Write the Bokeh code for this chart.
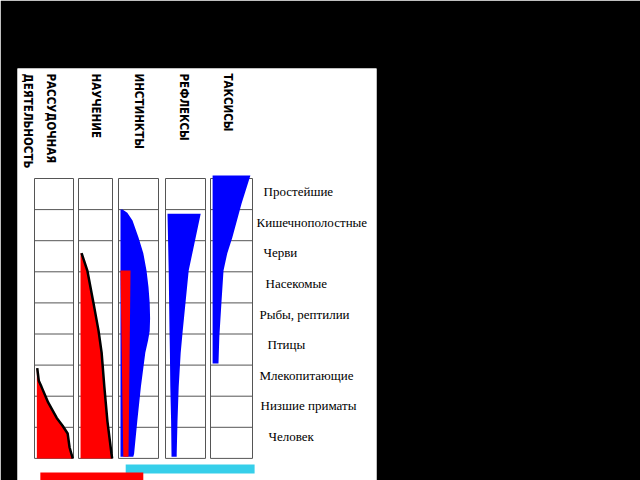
import math
from bokeh.plotting import figure
from bokeh.models import Range1d
from bokeh.core.properties import value
from bokeh.embed import file_html
from bokeh.resources import INLINE

# ---------------- data ----------------
levels = ["Простейшие", "Кишечнополостные", "Черви", "Насекомые",
          "Рыбы, рептилии", "Птицы", "Млекопитающие", "Низшие приматы", "Человек"]
forms_line1 = ["РАССУДОЧНАЯ", "НАУЧЕНИЕ", "ИНСТИНКТЫ", "РЕФЛЕКСЫ", "ТАКСИСЫ"]
forms_line2 = ["ДЕЯТЕЛЬНОСТЬ", "", "", "", ""]

# level position (rows from top) and share of the column filled
reason_level = [6.1, 6.5, 6.7, 7.2, 7.7, 7.95, 8.2, 8.65, 9.0]
reason_share = [0.07, 0.11, 0.18, 0.35, 0.57, 0.72, 0.85, 0.9, 0.98]

learning_level = [2.4, 2.96, 4.0, 4.9, 5.6, 6.7, 7.8, 8.85, 9.0]
learning_share = [0.09, 0.26, 0.44, 0.59, 0.68, 0.76, 0.85, 0.97, 0.99]

instinct_level = [1.0, 1.1, 1.35, 1.9, 2.4, 2.96, 3.5, 4.0, 4.5, 4.9, 5.2, 5.6, 6.7, 7.8, 8.85, 8.95]
instinct_share = [0.1, 0.22, 0.35, 0.5, 0.62, 0.7, 0.75, 0.78, 0.79, 0.78, 0.74, 0.67, 0.56, 0.47, 0.39, 0.37]

instinct_learned_level = [2.96, 8.95]
instinct_learned_left = [0.05, 0.12]
instinct_learned_share = [0.3, 0.25]

reflex_level = [1.13, 2.96, 4.9, 5.6, 6.7, 7.8, 8.85, 8.95]
reflex_left = [0.05, 0.08, 0.1, 0.11, 0.12, 0.14, 0.15, 0.15]
reflex_share = [0.88, 0.58, 0.43, 0.38, 0.33, 0.3, 0.28, 0.28]

taxis_level = [-0.1, 0.8, 1.9, 2.4, 2.96, 4.0, 5.1, 5.95]
taxis_share = [0.95, 0.74, 0.52, 0.40, 0.31, 0.26, 0.21, 0.19]

# bottom bars in column units (start, end)
bar_start = [0.15, 2.18]
bar_end = [2.62, 5.05]

# ---------------- layout ----------------
ROW0, ROWH = 178.0, 31.1          # pixel of first row line, row height
def r(px):
    return (px - ROW0) / ROWH

COL_L = [34, 78, 118, 165, 210]
COL_R = [73, 112, 158, 205, 252]
COL_W = [b - a for a, b in zip(COL_L, COL_R)]

def cx(i, s):
    return COL_L[i] + s * COL_W[i]

def colpos(c):
    i = min(int(c), 4)
    return cx(i, c - i)

RED = "#ff0000"
BLUE = "#0000ff"
CYAN = "#36cfea"
GRID = "#555555"

p = figure(width=640, height=480, output_backend="svg", toolbar_location=None,
           x_range=Range1d(17, 376), y_range=Range1d(r(480), r(68)),
           min_border_left=17, min_border_right=264, min_border_top=68,
           min_border_bottom=0, background_fill_color="white",
           border_fill_color="black", outline_line_color=None)
p.xaxis.visible = False
p.yaxis.visible = False
p.xgrid.visible = False
p.ygrid.visible = False

# grid boxes
for i in range(5):
    p.segment(x0=[COL_L[i], COL_R[i]], y0=[0, 0], x1=[COL_L[i], COL_R[i]], y1=[9, 9],
              line_color=GRID, line_width=1)
    p.segment(x0=[COL_L[i]] * 10, y0=list(range(10)), x1=[COL_R[i]] * 10,
              y1=list(range(10)), line_color=GRID, line_width=1)

# taxis
p.harea(x1=[cx(4, 0.05)] * len(taxis_level), x2=[cx(4, s) for s in taxis_share],
        y=taxis_level, fill_color=BLUE)
# reflexes
p.harea(x1=[cx(3, s) for s in reflex_left], x2=[cx(3, s) for s in reflex_share],
        y=reflex_level, fill_color=BLUE)
# instincts
p.harea(x1=[cx(2, 0.05)] * len(instinct_level), x2=[cx(2, s) for s in instinct_share],
        y=instinct_level, fill_color=BLUE)
p.harea(x1=[cx(2, s) for s in instinct_learned_left],
        x2=[cx(2, s) for s in instinct_learned_share],
        y=instinct_learned_level, fill_color=RED)
# learning
lx = [cx(1, s) for s in learning_share]
p.harea(x1=[cx(1, 0.06)] * len(learning_level), x2=lx, y=learning_level, fill_color=RED)
p.line(lx, learning_level, line_color="black", line_width=2.5)
# reasoning
rx = [cx(0, s) for s in reason_share]
p.harea(x1=[cx(0, 0.06)] * len(reason_level), x2=rx, y=reason_level, fill_color=RED)
p.line(rx, reason_level, line_color="black", line_width=2.5)

# bottom bars
p.quad(left=[colpos(bar_start[1])], right=[colpos(bar_end[1])],
       top=[r(464)], bottom=[r(473)], fill_color=CYAN, line_color=None)
p.quad(left=[colpos(bar_start[0])], right=[colpos(bar_end[0])],
       top=[r(472)], bottom=[r(481)], fill_color=RED, line_color=None)

# row labels
LABEL_X = [263, 256, 263, 265, 259, 267, 259, 260, 268]
p.text(x=LABEL_X, y=[i + 0.42 - 0.015 * i for i in range(9)], text=levels,
       text_font=value("Liberation Serif"), text_font_size="13px",
       text_color="black", text_baseline="middle", text_align="left")

# column headers (vertical)
HEAD_X1 = [50, 95, 138, 183, 227]
HEAD_X2 = [27]
HEAD_FONT = value("DejaVu Sans Condensed")
p.text(x=HEAD_X1, y=[r(73)] * 5, text=forms_line1, angle=-math.pi / 2,
       text_font=HEAD_FONT, text_font_style="bold",
       text_font_size="11.5px", text_color="black",
       text_baseline="middle", text_align="left")
p.text(x=HEAD_X2, y=[r(73)], text=[forms_line2[0]], angle=-math.pi / 2,
       text_font=HEAD_FONT, text_font_style="bold",
       text_font_size="11.5px", text_color="black",
       text_baseline="middle", text_align="left")

open("out.html", "w").write(file_html(p, INLINE))
